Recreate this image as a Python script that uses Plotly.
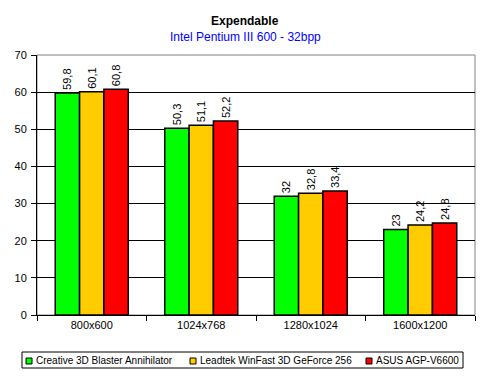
import plotly.graph_objects as go

categories = ["800x600", "1024x768", "1280x1024", "1600x1200"]
series_names = ["Creative 3D Blaster Annihilator", "Leadtek WinFast 3D GeForce 256", "ASUS AGP-V6600"]
creative = [59.8, 50.3, 32, 23]
leadtek = [60.1, 51.1, 32.8, 24.2]
asus = [60.8, 52.2, 33.4, 24.8]
colors = ["#00FF00", "#FFCC00", "#FF0000"]
y_ticks = [0, 10, 20, 30, 40, 50, 60, 70]

OFF = 8  # page body margin
W, H = 490 - OFF, 377 - OFF
L, R, T, B = 37 - OFF, 475 - OFF, 55 - OFF, 315 - OFF
font = "Liberation Sans, Arial, sans-serif"

def px(x):
    return (x - OFF - L) / (R - L)

def py(y):
    return (B - (y - OFF)) / (B - T)

fig = go.Figure()
for name, vals, c in zip(series_names, [creative, leadtek, asus], colors):
    fig.add_trace(go.Bar(
        x=categories, y=vals, name=name,
        marker=dict(color=c, line=dict(color="black", width=1.5)),
        text=[str(v).replace(".", ",") for v in vals],
        textposition="outside", textangle=-90,
        textfont=dict(family=font, size=11, color="black"),
        cliponaxis=False, showlegend=False,
    ))

fig.update_layout(
    width=W, height=H,
    margin=dict(l=L, r=W - R, t=T, b=H - B, autoexpand=False),
    paper_bgcolor="white", plot_bgcolor="white",
    barmode="group", bargap=0.333, bargroupgap=0,
    font=dict(family=font, size=11, color="black"),
    showlegend=False,
    yaxis=dict(
        range=[0, 70], tickvals=y_ticks, showgrid=True, gridcolor="black", gridwidth=1,
        showline=True, linecolor="black", linewidth=1, ticks="outside", ticklen=5,
        tickcolor="black", zeroline=False, ticklabelstandoff=2,
    ),
    xaxis=dict(
        showline=True, linecolor="black", linewidth=1, ticks="outside", ticklen=5,
        tickcolor="black", tickson="boundaries", showgrid=False,
    ),
)
# titles
fig.add_annotation(text="<b>Expendable</b>", xref="paper", yref="paper",
                   x=px(245), y=py(21), xanchor="center", yanchor="middle",
                   showarrow=False, font=dict(family=font, size=12, color="black"))
fig.add_annotation(text="Intel Pentium III 600 - 32bpp", xref="paper", yref="paper",
                   x=px(245), y=py(37), xanchor="center", yanchor="middle",
                   showarrow=False, font=dict(family=font, size=12, color="#0000FF"))
# gray top/right border of plot area
fig.add_shape(type="rect", xref="paper", yref="paper", x0=0, x1=1, y0=0, y1=1,
              line=dict(color="#808080", width=1), fillcolor="rgba(0,0,0,0)", layer="below")
# legend box
fig.add_shape(type="rect", xref="paper", yref="paper", x0=px(22), x1=px(463), y0=py(352), y1=py(368),
              line=dict(color="black", width=1), fillcolor="white")
sq_x = [26, 190, 366]
txt_x = [34, 198, 374]
for name, c, sx, tx in zip(series_names, colors, sq_x, txt_x):
    fig.add_shape(type="rect", xref="paper", yref="paper", x0=px(sx), x1=px(sx + 6),
                  y0=py(358), y1=py(364), line=dict(color="black", width=1), fillcolor=c)
    fig.add_annotation(text=name, xref="paper", yref="paper", x=px(tx), y=py(360.5),
                       xanchor="left", yanchor="middle", showarrow=False,
                       font=dict(family=font, size=10, color="black"))
fig.write_html("out.html")
